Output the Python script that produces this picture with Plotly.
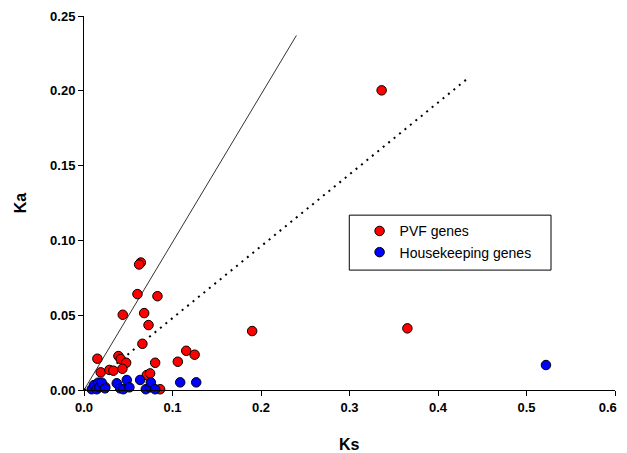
import plotly.graph_objects as go

# PVF genes (red)
pvf_ks = [0.0642, 0.0623, 0.0604, 0.0830, 0.0438, 0.0680, 0.0729, 0.0660, 0.0151,
          0.0389, 0.0415, 0.0476, 0.0189, 0.0287, 0.0332, 0.0434, 0.0804, 0.0710,
          0.0747, 0.1060, 0.1155, 0.1250, 0.0860, 0.0240, 0.1900, 0.3654, 0.3363]
pvf_ka = [0.0852, 0.0839, 0.0641, 0.0627, 0.0503, 0.0514, 0.0434, 0.0309, 0.0209,
          0.0227, 0.0207, 0.0182, 0.0118, 0.0134, 0.0129, 0.0142, 0.0182, 0.0100,
          0.0111, 0.0189, 0.0262, 0.0236, 0.0005, 0.0020, 0.0394, 0.0412, 0.2003]

# Housekeeping genes (blue)
hk_ks = [0.0087, 0.0113, 0.0144, 0.0162, 0.0174, 0.0200, 0.0238, 0.0370, 0.0408,
         0.0445, 0.0483, 0.0513, 0.0634, 0.0698, 0.0747, 0.0755, 0.0804, 0.1087,
         0.1268, 0.5220]
hk_ka = [0.0005, 0.0033, 0.0005, 0.0049, 0.0018, 0.0049, 0.0011, 0.0045, 0.0011,
         0.0005, 0.0067, 0.0018, 0.0067, 0.0005, 0.0018, 0.0051, 0.0005, 0.0051,
         0.0051, 0.0167]

# Reference lines
solid_ks = [0.0, 0.240]
solid_ka = [0.0, 0.237]
dotted_ks = [0.0, 0.433]
dotted_ka = [0.0, 0.208]

x_ticks = [0.0, 0.1, 0.2, 0.3, 0.4, 0.5, 0.6]
x_labels = ["0.0", "0.1", "0.2", "0.3", "0.4", "0.5", "0.6"]
y_ticks = [0.00, 0.05, 0.10, 0.15, 0.20, 0.25]
y_labels = ["0.00", "0.05", "0.10", "0.15", "0.20", "0.25"]

FONT = "Liberation Sans, Arial, sans-serif"

# keep the last x label inside the visible window
x_text = x_labels[:-1] + [x_labels[-1] + "\u00a0" * 4]

fig = go.Figure()
fig.add_trace(go.Scatter(x=solid_ks, y=solid_ka, mode="lines",
                         line=dict(color="#333333", width=1), showlegend=False,
                         hoverinfo="skip"))
fig.add_trace(go.Scatter(x=dotted_ks, y=dotted_ka, mode="lines",
                         line=dict(color="black", width=2, dash="2px,5px"),
                         showlegend=False, hoverinfo="skip"))
fig.add_trace(go.Scatter(x=pvf_ks, y=pvf_ka, mode="markers", name="PVF genes",
                         cliponaxis=False,
                         marker=dict(color="#ff0000", size=9.5,
                                     line=dict(color="black", width=1))))
fig.add_trace(go.Scatter(x=hk_ks, y=hk_ka, mode="markers", name="Housekeeping genes",
                         cliponaxis=False,
                         marker=dict(color="#0000ff", size=9.5,
                                     line=dict(color="black", width=1))))

# the page body adds an 8px offset, so margins are shifted to compensate
fig.update_layout(
    width=627, height=453,
    margin=dict(l=76, r=20, t=8, b=71, autoexpand=False),
    paper_bgcolor="white", plot_bgcolor="white",
    font=dict(family=FONT, color="black"),
    legend=dict(x=0.519, y=0.467, xanchor="left", yanchor="top",
                bgcolor="rgba(0,0,0,0)", borderwidth=0,
                font=dict(size=14, family=FONT), tracegroupgap=0),
    shapes=[dict(type="rect", xref="paper", yref="paper",
                 x0=0.4996, x1=0.8795, y0=0.3206, y1=0.4675,
                 line=dict(color="black", width=1), fillcolor="rgba(0,0,0,0)")],
    annotations=[
        dict(text="<b>Ks</b>", xref="paper", yref="paper", x=0.5, y=-0.147,
             xanchor="center", yanchor="middle", showarrow=False,
             font=dict(size=16, family=FONT)),
        dict(text="<b>Ka</b>", xref="paper", yref="paper", x=-0.12, y=0.5,
             xanchor="center", yanchor="middle", showarrow=False, textangle=-90,
             font=dict(size=16, family=FONT)),
    ],
)
fig.update_xaxes(range=[0, 0.6], tickvals=x_ticks, ticktext=x_text,
                 showline=True, linecolor="black", linewidth=1,
                 ticks="outside", ticklen=5, tickcolor="black",
                 showgrid=False, zeroline=False, automargin=False,
                 ticklabeloverflow="allow",
                 tickfont=dict(size=13, family=FONT, weight="bold"))
fig.update_yaxes(range=[0, 0.25], tickvals=y_ticks, ticktext=y_labels,
                 showline=True, linecolor="black", linewidth=1,
                 ticks="outside", ticklen=5, tickcolor="black",
                 showgrid=False, zeroline=False, automargin=False,
                 ticklabeloverflow="allow",
                 tickfont=dict(size=13, family=FONT, weight="bold"))

fig.write_html("out.html")
